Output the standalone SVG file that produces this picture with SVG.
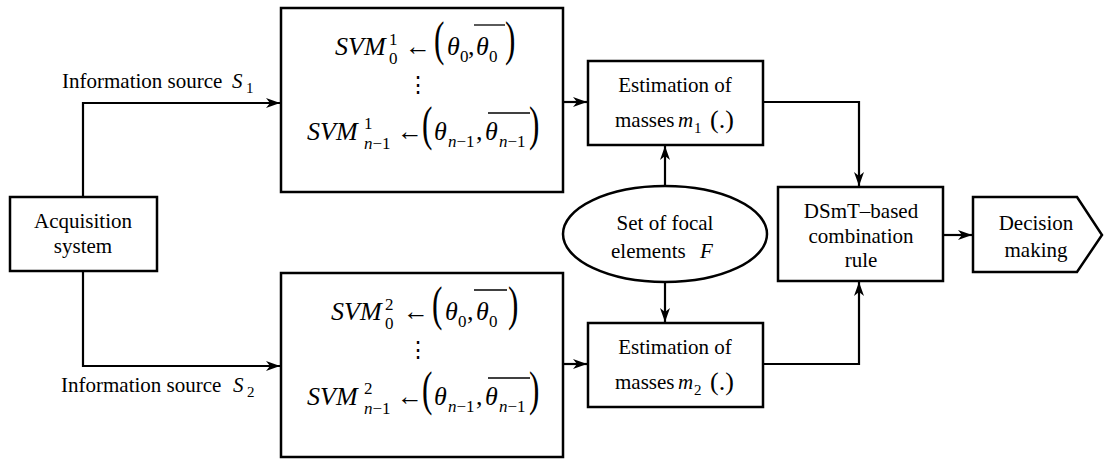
<svg xmlns="http://www.w3.org/2000/svg" width="1104" height="460" viewBox="0 0 1104 460">
<style>
text{font-family:"Liberation Serif","Times New Roman",serif;fill:#000}
.t{font-size:21px}
.c{text-anchor:middle}
.i{font-style:italic}
.m{font-size:26px}
.s{font-size:17px}
.ss{font-size:15px}
.box{fill:#fff;stroke:#000;stroke-width:2.5}
.ln{fill:none;stroke:#000;stroke-width:2.2}
.ov{stroke:#000;stroke-width:1.3}
</style>
<defs>
<marker id="ah" viewBox="0 0 14 10" refX="14" refY="5" markerWidth="14" markerHeight="10" markerUnits="userSpaceOnUse" orient="auto">
<path d="M0,0 L14,5 L0,10 L4,5 z" fill="#000"/>
</marker>
</defs>

<g id="connectors">
<path class="ln" d="M83,197 V103 H280" marker-end="url(#ah)"/>
<path class="ln" d="M83,271 V366 H280" marker-end="url(#ah)"/>
<path class="ln" d="M563,102 H587" marker-end="url(#ah)"/>
<path class="ln" d="M563,364 H587" marker-end="url(#ah)"/>
<path class="ln" d="M665,186 V146" marker-end="url(#ah)"/>
<path class="ln" d="M665,282 V322" marker-end="url(#ah)"/>
<path class="ln" d="M763,102 H859 V186" marker-end="url(#ah)"/>
<path class="ln" d="M763,364 H859 V282" marker-end="url(#ah)"/>
<path class="ln" d="M943,235 H972" marker-end="url(#ah)"/>
</g>

<g id="label-s1">
<text class="t" x="62" y="88">Information source</text>
<text class="t i" x="232" y="88">S</text>
<text class="ss" x="246" y="93">1</text>
</g>
<g id="label-s2">
<text class="t" x="61" y="392">Information source</text>
<text class="t i" x="233" y="392">S</text>
<text class="ss" x="247" y="397">2</text>
</g>

<g id="acquisition">
<rect class="box" x="10" y="197" width="147" height="74"/>
<text class="t c" x="83" y="228">Acquisition</text>
<text class="t c" x="83" y="253">system</text>
</g>

<g id="svm1">
<rect class="box" x="281" y="8" width="282" height="184"/>
<text class="m i" x="335" y="55">SVM</text>
<text class="s" x="389" y="45">1</text>
<text class="s" x="389" y="64">0</text>
<text class="m" x="405" y="55">←</text>
<text class="m" transform="translate(434,55) scale(0.65,1)" style="font-size:48px">(</text>
<text class="m i" x="447" y="55">θ</text>
<text class="s" x="460" y="62">0</text>
<text class="m" x="468" y="55">,</text>
<text class="m i" x="476" y="55">θ</text>
<text class="s" x="489" y="62">0</text>
<line class="ov" x1="474" y1="25" x2="505" y2="25"/>
<text class="m" transform="translate(505,55) scale(0.65,1)" style="font-size:48px">)</text>
<text class="c" x="418" y="92" style="font-size:22px">⋮</text>
<text class="m i" x="307" y="140">SVM</text>
<text class="s" x="364" y="129">1</text>
<text class="s i" x="364" y="149">n<tspan font-style="normal">−1</tspan></text>
<text class="m" x="397" y="140">←</text>
<text class="m" transform="translate(422,140) scale(0.65,1)" style="font-size:48px">(</text>
<text class="m i" x="434" y="140">θ</text>
<text class="s i" x="448" y="147">n<tspan font-style="normal">−1</tspan></text>
<text class="m" x="476" y="140">,</text>
<text class="m i" x="485" y="140">θ</text>
<text class="s i" x="499" y="147">n<tspan font-style="normal">−1</tspan></text>
<line class="ov" x1="488" y1="113" x2="530" y2="113"/>
<text class="m" transform="translate(529,140) scale(0.65,1)" style="font-size:48px">)</text>
</g>

<g id="svm2">
<rect class="box" x="281" y="273" width="282" height="184"/>
<text class="m i" x="331" y="320">SVM</text>
<text class="s" x="385" y="310">2</text>
<text class="s" x="385" y="329">0</text>
<text class="m" x="403" y="320">←</text>
<text class="m" transform="translate(432,320) scale(0.65,1)" style="font-size:48px">(</text>
<text class="m i" x="445" y="320">θ</text>
<text class="s" x="458" y="327">0</text>
<text class="m" x="467" y="320">,</text>
<text class="m i" x="476" y="320">θ</text>
<text class="s" x="489" y="327">0</text>
<line class="ov" x1="474" y1="290" x2="507" y2="290"/>
<text class="m" transform="translate(508,320) scale(0.65,1)" style="font-size:48px">)</text>
<text class="c" x="418" y="357" style="font-size:22px">⋮</text>
<text class="m i" x="307" y="405">SVM</text>
<text class="s" x="364" y="394">2</text>
<text class="s i" x="364" y="414">n<tspan font-style="normal">−1</tspan></text>
<text class="m" x="397" y="405">←</text>
<text class="m" transform="translate(422,405) scale(0.65,1)" style="font-size:48px">(</text>
<text class="m i" x="434" y="405">θ</text>
<text class="s i" x="448" y="412">n<tspan font-style="normal">−1</tspan></text>
<text class="m" x="476" y="405">,</text>
<text class="m i" x="485" y="405">θ</text>
<text class="s i" x="499" y="412">n<tspan font-style="normal">−1</tspan></text>
<line class="ov" x1="488" y1="378" x2="530" y2="378"/>
<text class="m" transform="translate(529,405) scale(0.65,1)" style="font-size:48px">)</text>
</g>

<g id="estimation1">
<rect class="box" x="588" y="61" width="175" height="84"/>
<text class="t c" x="675" y="92">Estimation of</text>
<text class="t" x="615" y="127">masses</text>
<text class="t i" x="678" y="127">m</text>
<text class="ss" x="694" y="133">1</text>
<text x="710" y="128" style="font-size:26px">(.)</text>
</g>

<g id="estimation2">
<rect class="box" x="588" y="323" width="175" height="84"/>
<text class="t c" x="675" y="354">Estimation of</text>
<text class="t" x="615" y="389">masses</text>
<text class="t i" x="678" y="389">m</text>
<text class="ss" x="694" y="395">2</text>
<text x="710" y="390" style="font-size:26px">(.)</text>
</g>

<g id="focal">
<ellipse class="box" cx="665" cy="234" rx="102" ry="48"/>
<text class="t c" x="665" y="230">Set of focal</text>
<text class="t" x="611" y="258">elements</text>
<text class="t i" x="700" y="258">F</text>
</g>

<g id="dsmt">
<rect class="box" x="778" y="187" width="165" height="94"/>
<text class="t c" x="861" y="218">DSmT–based</text>
<text class="t c" x="861" y="243">combination</text>
<text class="t c" x="861" y="267">rule</text>
</g>

<g id="decision">
<polygon class="box" points="973,197 1077,197 1102,235 1077,272 973,272"/>
<text class="t c" x="1036" y="230">Decision</text>
<text class="t c" x="1036" y="257">making</text>
</g>
</svg>
